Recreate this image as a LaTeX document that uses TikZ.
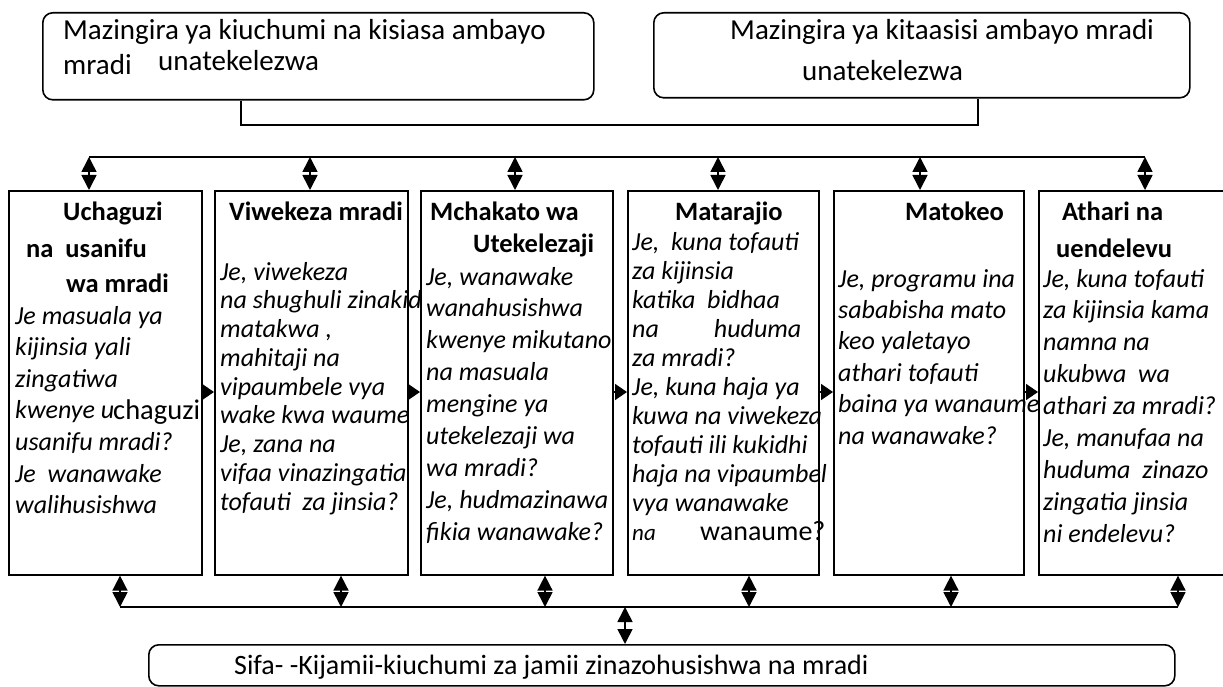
\documentclass[tikz,border=0pt]{standalone}
\usepackage{fontspec}
\setmainfont{Carlito}
\usetikzlibrary{arrows.meta}
\begin{document}
\begin{tikzpicture}[x=1pt,y=-1pt,
  stagebox/.style={draw, line width=1.6pt, rectangle, inner sep=0pt, anchor=north west, minimum height=384pt},
  rbox/.style={draw, line width=1.6pt, rounded corners=10pt, rectangle, inner sep=0pt, anchor=north west},
  ttl/.style={font=\bfseries\fontsize{26.5}{30}\selectfont, anchor=base west, inner sep=0pt},
  bdy/.style={font=\itshape\fontsize{26}{30}\selectfont, anchor=base west, inner sep=0pt},
  reg/.style={font=\fontsize{28.5}{32}\selectfont, anchor=base west, inner sep=0pt},
  toptxt/.style={font=\fontsize{29}{33}\selectfont, anchor=base west, inner sep=0pt},
  conn/.style={line width=1.6pt},
  dia/.style={line width=1.6pt, {Triangle[length=15pt,width=15pt]}-{Triangle[length=15pt,width=15pt]}},
  harrow/.style={line width=1.6pt, -{Triangle[length=12pt,width=16pt]}}
]
\useasboundingbox (0,0) rectangle (1223,687);
\clip (0,0) rectangle (1223,687);

% top context boxes
\node[rbox, minimum width=551pt, minimum height=87pt] (tl) at (42,12) {};
\node[rbox, minimum width=536pt, minimum height=85pt] (tr) at (653,12) {};
\node[toptxt] (tl1) at (63,40) {Mazingira ya kiuchumi na kisiasa ambayo};
\node[toptxt] (tl2) at (63,75) {mradi};
\node[toptxt] (tl3) at (158,71) {unatekelezwa};
\node[toptxt] (tr1) at (730,40) {Mazingira ya kitaasisi ambayo mradi};
\node[toptxt] (tr2) at (802,81) {unatekelezwa};

% connector between the two top boxes
\coordinate (ca) at (241,125);
\coordinate (cb) at (978,125);
\draw[conn] (ca |- tl.south) -- (ca) -- (cb) -- (cb |- tr.south);

% stage boxes
\node[stagebox, minimum width=193pt] (b1) at (8,190) {};
\node[stagebox, minimum width=193pt] (b2) at (214,190) {};
\node[stagebox, minimum width=192pt] (b3) at (420,190) {};
\node[stagebox, minimum width=191pt] (b4) at (627,190) {};
\node[stagebox, minimum width=190pt] (b5) at (833,190) {};
\node[stagebox, minimum width=200pt] (b6) at (1038,190) {};

% titles
\node[ttl] (h1a) at (63,220) {Uchaguzi};
\node[ttl] (h1b) at (26,257) {na~~usanifu};
\node[ttl] (h1c) at (66,292) {wa mradi};
\node[ttl] (h2a) at (229,220) {Viwekeza mradi};
\node[ttl] (h3a) at (430,220) {Mchakato wa};
\node[ttl] (h3b) at (473,252) {Utekelezaji};
\node[ttl] (h4a) at (675,220) {Matarajio};
\node[ttl] (h5a) at (905,220) {Matokeo};
\node[ttl] (h6a) at (1062,220) {Athari na};
\node[ttl] (h6b) at (1056,257) {uendelevu};

% body texts
\foreach \t [count=\i from 0] in {{Je masuala ya},{kijinsia yali},{zingatiwa},{kwenye u},{usanifu mradi?},{Je~~wanawake},{walihusishwa}}
  \node[bdy] (ba\i) at (15,{324+\i*31.6}) {\t};
\node[reg] (bax) at (113,419) {chaguzi};

\foreach \t [count=\i from 0] in {{Je, viwekeza},{na shughuli zinakid},{matakwa ,},{mahitaji na},{vipaumbele vya},{wake kwa waume},{Je, zana na},{vifaa vinazingatia},{tofauti~~za jinsia?}}
  \node[bdy] (bb\i) at (220,{280+\i*28.75}) {\t};

\foreach \t [count=\i from 0] in {{Je, wanawake},{wanahusishwa},{kwenye mikutano},{na masuala},{mengine ya},{utekelezaji wa},{wa mradi?},{Je, hudmazinawa},{fikia wanawake?}}
  \node[bdy] (bc\i) at (426,{285+\i*31.9}) {\t};

\foreach \t [count=\i from 0] in {{Je,~~kuna tofauti},{za kijinsia},{katika~~bidhaa},{na\hspace{55pt}huduma},{za mradi?},{Je, kuna haja ya},{kuwa na viwekeza},{tofauti ili kukidhi},{haja na vipaumbel},{vya wanawake}}
  \node[bdy] (bd\i) at (632,{250+\i*29}) {\t};
\node[bdy, font=\itshape\fontsize{23}{28}\selectfont] (bdx) at (632,540) {na};
\node[reg, font=\fontsize{28}{32}\selectfont] (bdy) at (700,540) {wanaume?};

\foreach \t [count=\i from 0] in {{Je, programu ina},{sababisha mato},{keo yaletayo},{athari tofauti},{baina ya wanaume},{na wanawake?}}
  \node[bdy] (be\i) at (838,{287+\i*31.4}) {\t};

\foreach \t [count=\i from 0] in {{Je, kuna tofauti},{za kijinsia kama},{namna na},{ukubwa~~wa},{athari za mradi?},{Je, manufaa na},{huduma~~zinazo},{zingatia jinsia},{ni endelevu?}}
  \node[bdy] (bf\i) at (1043,{287+\i*31.9}) {\t};

% arrows between stages
\coordinate (ay) at (0,392);
\draw[harrow] (b1.east |- ay) -- (b2.west |- ay);
\draw[harrow] (b2.east |- ay) -- (b3.west |- ay);
\draw[harrow] (b3.east |- ay) -- (b4.west |- ay);
\draw[harrow] (b4.east |- ay) -- (b5.west |- ay);
\draw[harrow] (b5.east |- ay) -- (b6.west |- ay);

% top bus
\coordinate (tp1) at (89,157);
\coordinate (tp2) at (310,157);
\coordinate (tp3) at (515,157);
\coordinate (tp4) at (718,157);
\coordinate (tp5) at (920,157);
\coordinate (tp6) at (1145,157);
\draw[conn] (tp1) -- (tp6);
\foreach \k in {1,...,6}
  \draw[dia] (tp\k) -- (tp\k |- b\k.north);

% bottom box and bus
\node[rbox, minimum width=1026pt, minimum height=41pt] (bb) at (148,644) {};
\node[reg, font=\fontsize{28}{32}\selectfont] (bbt) at (234,674) {Sifa- -Kijamii-kiuchumi za jamii zinazohusishwa na mradi};
\coordinate (bp1) at (120,607);
\coordinate (bp2) at (341,607);
\coordinate (bp3) at (545,607);
\coordinate (bp4) at (749,607);
\coordinate (bp5) at (951,607);
\coordinate (bp6) at (1178,607);
\coordinate (bpc) at (625,607);
\draw[conn] (bp1) -- (bp6);
\foreach \k in {1,...,6}
  \draw[dia] (bp\k |- b\k.south) -- (bp\k);
\draw[dia] (bpc) -- (bpc |- bb.north);
\end{tikzpicture}
\end{document}
